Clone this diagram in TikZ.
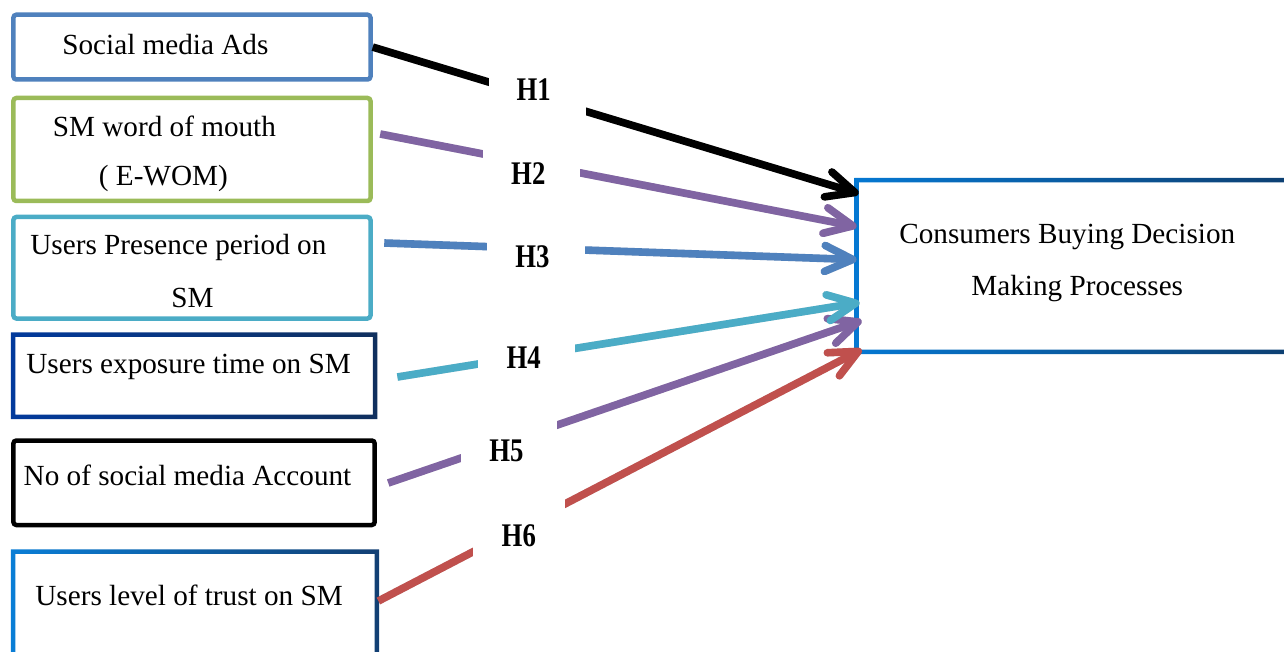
\documentclass[tikz,border=0pt]{standalone}
\usepackage{fontspec}
\setmainfont{Liberation Serif}
\usetikzlibrary{arrows.meta,calc,fit}

\definecolor{cAds}{HTML}{4F81BD}
\definecolor{cWom}{HTML}{9BBB59}
\definecolor{cPres}{HTML}{4BACC6}
\definecolor{cExpL}{HTML}{023A9C}
\definecolor{cExpR}{HTML}{10305E}
\definecolor{cTrustL}{HTML}{0A7ED6}
\definecolor{cTrustR}{HTML}{123F73}
\definecolor{cGoalL}{HTML}{0578D2}
\definecolor{cGoalR}{HTML}{0E3C6C}
\definecolor{cPurple}{HTML}{8064A2}
\definecolor{cRed}{HTML}{C0504D}

% ring-shaped frame with a left-to-right colour gradient around a node
\newcommand{\gradframe}[3]{%
  \shade[left color=#2, right color=#3, even odd rule]
    ([shift={(-1.125pt,1.125pt)}]#1.north west) rectangle ([shift={(1.125pt,-1.125pt)}]#1.south east)
    ([shift={(1.125pt,-1.125pt)}]#1.north west) rectangle ([shift={(-1.125pt,1.125pt)}]#1.south east);}

% a link with a soft shadow underneath
\newcommand{\hlink}[3]{%
  \draw[link, black, opacity=0.12, shift={(1.5,3)}] (#1) -- (#2);
  \draw[link, #3] (#1) -- (#2);}

\begin{document}
\begin{tikzpicture}[x=0.5pt,y=-0.5pt,
  frame/.style={inner sep=0pt, line width=2.25pt, rounded corners=1.5pt},
  slot/.style={inner sep=0pt},
  txt/.style={anchor=base west, inner sep=0pt, font=\fontsize{14.6}{17}\selectfont},
  hyp/.style={anchor=base, inner sep=0pt, font=\fontsize{16.5}{18}\selectfont\bfseries},
  link/.style={line width=3.8pt, line cap=butt,
    -{Straight Barb[length=14pt,width=13pt,line cap=round,line join=round]}}]

\useasboundingbox (0,0) rectangle (1284,652);

% source boxes
\node[frame, draw=cAds, fit={(13.4,14.7) (370.5,79.5)}] (b1) {};
\node[frame, draw=cWom, fit={(13.4,98) (370.5,201)}] (b2) {};
\node[frame, draw=cPres, fit={(13.4,217) (370.5,318.5)}] (b3) {};
\node[slot, fit={(13.4,335) (374.7,416.5)}] (b4) {};
\gradframe{b4}{cExpL}{cExpR}
\node[frame, draw=black, fit={(13.4,440.5) (374.7,525)}] (b5) {};
\node[slot, fit={(13.5,552) (376.5,662)}] (b6) {};
\gradframe{b6}{cTrustL}{cTrustR}

% outcome box
\node[slot, fit={(857,180.5) (1310,351.5)}] (goal) {};
\gradframe{goal}{cGoalL}{cGoalR}

% box texts
\node[txt] (l1) at (62,55) {Social media Ads};
\node[txt] (l2a) at (52.5,136.5) {SM word of mouth};
\node[txt] (l2b) at (98.5,185.5) {( E-WOM)};
\node[txt] (l3a) at (30,255) {Users Presence period on};
\node[txt] (l3b) at (171,307.5) {SM};
\node[txt] (l4) at (26,373) {Users exposure time on SM};
\node[txt] (l5) at (23.3,485) {No of social media Account};
\node[txt] (l6) at (35,605) {Users level of trust on SM};
\node[txt] (g1) at (899,243.5) {Consumers Buying Decision};
\node[txt] (g2) at (971,295) {Making Processes};

% connector ends
\coordinate (s1) at (b1.east);
\coordinate (s2) at ($(b2.east)+(7.5,-15.5)$);
\coordinate (s3) at ($(b3.east)+(11.5,-24.75)$);
\coordinate (s4) at ($(b4.east)+(22.3,1.25)$);
\coordinate (s5) at ($(b5.east)+(11.3,0.25)$);
\coordinate (s6) at ($(b6.east)+(1.5,-6)$);
\coordinate (e1) at ($(goal.north west)+(2,13.5)$);
\coordinate (e2) at ($(goal.north west)+(0,46.5)$);
\coordinate (e3) at ($(goal.north west)+(0,79.5)$);
\coordinate (e4) at ($(goal.north west)+(3,122.5)$);
\coordinate (e5) at ($(goal.north west)+(5,140.5)$);
\coordinate (e6) at ($(goal.north west)+(5,169.5)$);

% hypothesis links
\hlink{s6}{e6}{cRed}
\hlink{s5}{e5}{cPurple}
\hlink{s4}{e4}{cPres}
\hlink{s3}{e3}{cAds}
\hlink{s2}{e2}{cPurple}
\hlink{s1}{e1}{black}

% white breaks in the links behind the labels
\fill[white] (489,74) rectangle (586,124);
\fill[white] (483,146) rectangle (580,183);
\fill[white] (487,238) rectangle (585,261);
\fill[white] (478,340) rectangle (575,373);
\fill[white] (461,416) rectangle (557,466);
\fill[white] (473,494) rectangle (565,561);

% hypothesis labels
\node[hyp] (h1) at (533.7,100.7) {\scalebox{0.81}[1]{H1}};
\node[hyp] (h2) at (528.3,185) {\scalebox{0.81}[1]{H2}};
\node[hyp] (h3) at (532.5,267.3) {\scalebox{0.81}[1]{H3}};
\node[hyp] (h4) at (523.7,368.3) {\scalebox{0.81}[1]{H4}};
\node[hyp] (h5) at (506.5,461.7) {\scalebox{0.81}[1]{H5}};
\node[hyp] (h6) at (518.8,546.7) {\scalebox{0.81}[1]{H6}};
\end{tikzpicture}
\end{document}
